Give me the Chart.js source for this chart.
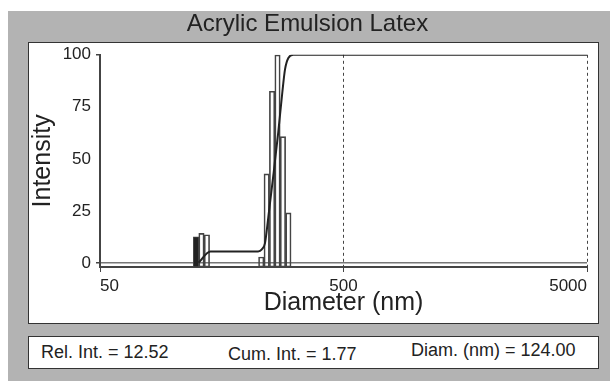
<!DOCTYPE html>
<html>
<head>
<meta charset="utf-8">
<title>Acrylic Emulsion Latex</title>
<script src="https://cdn.jsdelivr.net/npm/chart.js@4.4.0/dist/chart.umd.min.js"></script>
<style>
    body {
        margin: 0;
        width: 610px;
        height: 381px;
        overflow: hidden;
        background: #fff;
        font-family: "Liberation Sans", Arial, sans-serif;
    }
    #panel {
        position: absolute;
        left: 8px;
        top: 11px;
        width: 602px;
        height: 370px;
        background: #b3b3b3;
    }
    #plotBox {
        position: absolute;
        left: 28px;
        top: 42px;
        width: 569px;
        height: 280px;
        background: #fff;
        border: 1px solid #333;
    }
    #chartSize {
        position: absolute;
        left: 0;
        top: 0;
    }
    #info {
        position: absolute;
        left: 28px;
        top: 336px;
        width: 569px;
        height: 31px;
        background: #fff;
        border: 1px solid #333;
        color: #222;
        font-size: 18px;
        line-height: 18px;
    }
    #info span {
        position: absolute;
        white-space: nowrap;
    }
</style>
</head>
<body>

<div id="panel"></div>
<div id="plotBox"></div>
<canvas id="chartSize" width="610" height="330"></canvas>

<div id="info">
    <span style="left:12px;top:6px">Rel. Int. = 12.52</span>
    <span style="left:199px;top:8px">Cum. Int. = 1.77</span>
    <span style="left:382px;top:4px">Diam. (nm) = 124.00</span>
</div>

<script>
/* ==========================================================
   Acrylic Emulsion Latex - size distribution
========================================================== */

// histogram bins (nm) and relative intensity
const binDiam = [124.0, 130.5, 137.4, 229.7, 241.8, 254.5, 267.9, 282.0, 296.9];
const binInt  = [12.52, 14.2, 13.5, 2.8, 42.8, 82.5, 100, 60.7, 24.0];

// cumulative intensity curve
const cumDiam = [127, 142, 223, 231, 238, 245.6, 257.5, 269.9, 280.4, 287.6, 296.8, 311, 5000];
const cumInt  = [0, 5.5, 5.5, 6.5, 9.5, 22, 42, 63, 82, 93, 98.5, 100, 100];

// selected bin shown in the readout
const selDiam = 124.0;

const xTicks = [50, 500, 5000];
const yTicks = [0, 25, 50, 75, 100];

const X_MIN = 50;
const X_MAX = 5000;
const Y_MIN = -2;
const Y_MAX = 100;

let sizeChart = null;

function buildChart() {

    Chart.defaults.font.family = '"Liberation Sans", Arial, sans-serif';
    Chart.defaults.color = "#222";

    const ctx = document
        .getElementById("chartSize")
        .getContext("2d");

    sizeChart = new Chart(ctx, {

        type: "bar",

        data: {

            datasets: [{

                type: "line",
                label: "Cumulative",
                data: cumDiam.map((d, i) => ({ x: d, y: cumInt[i] })),
                borderColor: "#222",
                borderWidth: 2,
                pointRadius: 0,
                fill: false,
                cubicInterpolationMode: "monotone",
                order: 0

            }, {

                label: "Intensity",
                data: binDiam.map((d, i) => ({ x: d, y: binInt[i] })),
                base: Y_MIN,
                backgroundColor: c => (c.raw && c.raw.x === selDiam) ? "#222" : "rgba(255,255,255,0)",
                borderColor: "#444",
                borderWidth: 1,
                borderSkipped: false,
                barPercentage: 1,
                categoryPercentage: 1,
                order: 1

            }]

        },

        options: {

            responsive: false,
            animation: false,

            layout: {
                padding: { left: 28, right: 23, top: 0, bottom: 6 }
            },

            plugins: {

                legend: { display: false },
                tooltip: { enabled: false },

                title: {
                    display: true,
                    text: "Acrylic Emulsion Latex",
                    color: "#222",
                    font: { size: 24, weight: "normal" },
                    padding: { top: 10, bottom: 16 }
                }

            },

            scales: {

                x: {

                    type: "logarithmic",
                    position: "bottom",
                    min: X_MIN,
                    max: X_MAX,
                    offset: false,

                    afterBuildTicks: s => {
                        s.ticks = xTicks.map(v => ({ value: v }));
                    },

                    afterFit: s => {
                        s.height = 57;
                    },

                    ticks: {
                        callback: v => String(v),
                        font: { size: 17 },
                        color: "#222",
                        align: "inner",
                        maxRotation: 0,
                        autoSkip: false,
                        padding: 4
                    },

                    grid: {
                        offset: false,
                        drawOnChartArea: true,
                        color: c => (c.tick && c.tick.value === X_MIN) ? "rgba(0,0,0,0)" : "#444",
                        tickColor: "#444",
                        tickLength: 5,
                        lineWidth: 1
                    },

                    border: {
                        display: true,
                        color: "#444",
                        width: 2,
                        dash: [3, 3]
                    },

                    title: {
                        display: true,
                        text: "Diameter (nm)",
                        color: "#222",
                        font: { size: 25 },
                        padding: { top: 0, bottom: 6 }
                    }

                },

                y: {

                    type: "linear",
                    min: Y_MIN,
                    max: Y_MAX,

                    afterBuildTicks: s => {
                        s.ticks = yTicks.map(v => ({ value: v }));
                    },

                    afterFit: s => {
                        s.width = 72;
                    },

                    ticks: {
                        font: { size: 17 },
                        color: "#222",
                        padding: 5
                    },

                    grid: {
                        drawOnChartArea: true,
                        color: c => (c.tick && c.tick.value === 0) ? "#777" : "rgba(0,0,0,0)",
                        tickColor: c => (c.tick && (c.tick.value === 0 || c.tick.value === 100)) ? "#444" : "rgba(0,0,0,0)",
                        tickLength: 4,
                        lineWidth: 1.5
                    },

                    border: {
                        display: true,
                        color: "#444",
                        width: 2
                    },

                    title: {
                        display: true,
                        text: "Intensity",
                        color: "#222",
                        font: { size: 25 },
                        padding: { top: 0, bottom: 0 }
                    }

                }

            }

        }

    });

}

buildChart();
</script>
</body>
</html>
